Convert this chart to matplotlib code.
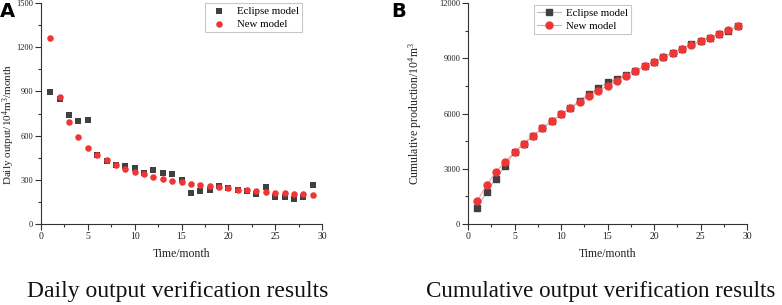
import matplotlib
matplotlib.use("Agg")
import matplotlib.pyplot as plt
from matplotlib.ticker import MultipleLocator

plt.rcParams['font.family'] = ['Liberation Serif', 'DejaVu Serif']
plt.rcParams['mathtext.fontset'] = 'custom'
plt.rcParams['mathtext.rm'] = 'Liberation Serif'
plt.rcParams['mathtext.default'] = 'regular'

months = list(range(1, 30))

daily_eclipse = [893, 847, 739, 696, 705, 470, 430, 400, 397, 378, 344, 369, 349, 342, 299,
                 213, 224, 231, 258, 242, 231, 227, 204, 249, 181, 186, 168, 186, 265]
daily_new = [1260, 861, 689, 589, 519, 471, 431, 401, 376, 356, 338, 322, 308, 295, 283,
             274, 265, 256, 249, 242, 233, 229, 222, 218, 213, 208, 206, 202, 197]

cum_eclipse = [888, 1740, 2465, 3172, 3897, 4369, 4804, 5202, 5583, 5946, 6310, 6690, 7050, 7380, 7690,
               7885, 8070, 8310, 8560, 8800, 9050, 9280, 9510, 9750, 9915, 10115, 10300, 10480, 10731]
cum_new = [1251, 2121, 2810, 3390, 3897, 4369, 4804, 5202, 5583, 5946, 6290, 6616, 6924, 7215, 7505,
           7776, 8048, 8302, 8556, 8792, 9045, 9281, 9498, 9716, 9915, 10115, 10314, 10514, 10731]

series_labels = ["Eclipse model", "New model"]
captions = ["Daily output verification results", "Cumulative output verification results"]
panel_letters = ["A", "B"]

gray = "#404040"
red = "#f03535"

W, H = 782, 305
fig = plt.figure(figsize=(W / 100, H / 100), dpi=100)

def px_axes(x0, x1, ytop, ybot):
    return fig.add_axes([x0 / W, (H - ybot) / H, (x1 - x0) / W, (ybot - ytop) / H])

def style(ax, ymax, ystep):
    ax.set_xlim(0, 30)
    ax.set_ylim(0, ymax)
    ax.xaxis.set_major_locator(MultipleLocator(5))
    ax.xaxis.set_minor_locator(MultipleLocator(2.5))
    ax.yaxis.set_major_locator(MultipleLocator(ystep))
    ax.yaxis.set_minor_locator(MultipleLocator(ystep / 2))
    for s in ["top", "right"]:
        ax.spines[s].set_visible(False)
    for s in ["left", "bottom"]:
        ax.spines[s].set_color("#333333")
        ax.spines[s].set_linewidth(0.8)
    ax.tick_params(which="major", direction="out", length=4, width=0.8, colors="#333333",
                   labelcolor="#222222", pad=2)
    ax.tick_params(axis="x", labelsize=7)
    ax.tick_params(axis="y", labelsize=6.0, pad=1.5)
    ax.tick_params(which="minor", direction="out", length=2, width=0.8, colors="#333333")
    ax.set_xlabel("Time/month", fontsize=8.5, color="#222222", labelpad=5)

# Panel A
axA = px_axes(41, 322, 3, 224)
axA.scatter(months, daily_eclipse, marker="s", s=16, color=gray, label=series_labels[0], zorder=3, linewidths=0)
axA.scatter(months, daily_new, marker="o", s=22, color=red, label=series_labels[1], zorder=4, linewidths=0)
style(axA, 1500, 300)
axA.set_ylabel(r"Daily output/10$^{4}$m$^{3}$/month", fontsize=8.0, color="#222222")
axA.yaxis.set_label_coords(-0.086, 0.45)
legA = axA.legend(loc="upper left", bbox_to_anchor=(0.584, 1.0), borderaxespad=0, fontsize=7.8, frameon=True,
                  fancybox=False, edgecolor="#bbbbbb", handletextpad=0.6, borderpad=0.3, labelspacing=0.3,
                  scatterpoints=1)
legA.get_frame().set_linewidth(0.8)

# Panel B
axB = px_axes(468, 747, 3, 224)
axB.plot(months, cum_eclipse, marker="s", ms=4.2, color="#bbbbbb", mfc=gray, mec=gray, lw=0.8,
         label=series_labels[0], zorder=3)
axB.plot(months, cum_new, marker="o", ms=5, color="#f5a0a0", mfc=red, mec=red, lw=0.8,
         label=series_labels[1], zorder=4)
style(axB, 12000, 3000)
axB.set_ylabel(r"Cumulative production/10$^{4}$m$^{3}$", fontsize=8.5, color="#222222")
axB.yaxis.set_label_coords(-0.158, 0.5)
legB = axB.legend(loc="upper left", bbox_to_anchor=(0.237, 0.99), borderaxespad=0, fontsize=7.8, frameon=True,
                  fancybox=False, edgecolor="#bbbbbb", handletextpad=0.4, borderpad=0.3, labelspacing=0.3,
                  handlelength=2.2)
legB.get_frame().set_linewidth(0.8)

# Panel letters
fig.text(0 / W, 1 - 2 / H, panel_letters[0], fontsize=14, fontweight="bold", family="DejaVu Sans", va="top", ha="left")
fig.text(391 / W, 1 - 2 / H, panel_letters[1], fontsize=14, fontweight="bold", family="DejaVu Sans", va="top", ha="left")

# Captions
fig.text(178 / W, 1 - 291 / H, captions[0], fontsize=17, ha="center", va="center", color="#111111")
fig.text(601 / W, 1 - 291 / H, captions[1], fontsize=16.6, ha="center", va="center", color="#111111")

fig.savefig("out.png", dpi=100, facecolor="white")
